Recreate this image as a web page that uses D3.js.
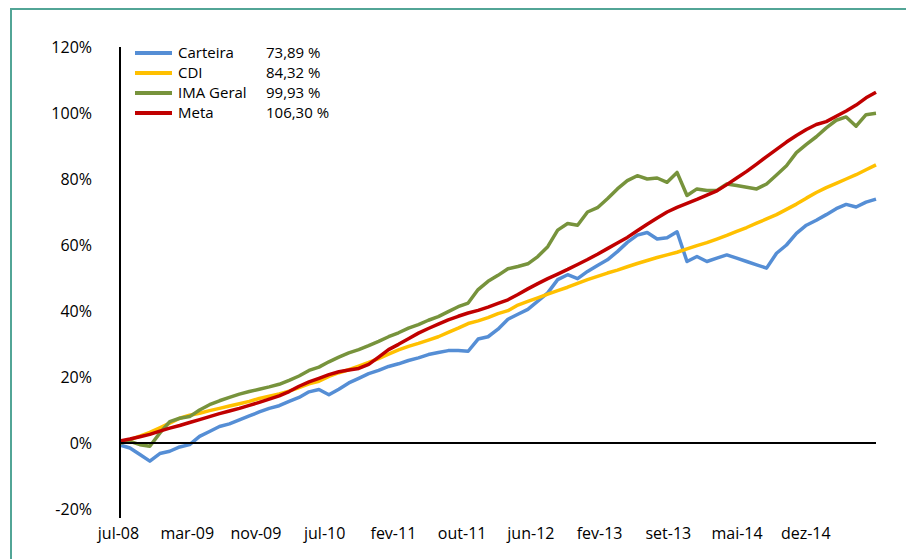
<!DOCTYPE html>
<html>
<head>
<meta charset="utf-8">
<script src="https://cdn.jsdelivr.net/npm/d3@7"></script>
<style>
  html, body { margin: 0; padding: 0; background: #fff; }
  svg { display: block; font-family: 'Open Sans', sans-serif; }
</style>
</head>
<body>
<svg id="canvas"></svg>
<script>
// series, in % (sampled along the category axis)
const carteira = [-0.6, -1.5, -3.5, -5.5, -3.2, -2.5, -1.2, -0.5, 2.0, 3.5,
  5.0, 5.8, 7.0, 8.2, 9.4, 10.5, 11.3, 12.6, 13.8, 15.5,
  16.2, 14.6, 16.3, 18.2, 19.6, 21.0, 22.0, 23.2, 24.0, 25.0,
  25.8, 26.8, 27.4, 28.0, 28.0, 27.8, 31.5, 32.2, 34.5, 37.5,
  39.0, 40.5, 43.0, 45.5, 49.5, 51.0, 49.8, 52.0, 53.8, 55.5,
  58.0, 60.8, 63.0, 63.8, 61.8, 62.2, 64.0, 55.0, 56.5, 55.0,
  56.0, 57.0, 56.0, 55.0, 54.0, 53.0, 57.5, 60.0, 63.5, 66.0,
  67.5, 69.2, 71.0, 72.3, 71.5, 73.0, 73.9];
const cdi = [0, 1.0, 2.1, 3.2, 4.6, 6.0, 7.5, 8.4, 9.0, 9.8,
  10.5, 11.2, 11.9, 12.6, 13.5, 14.2, 14.9, 15.7, 16.8, 17.9,
  18.7, 20.2, 21.3, 22.2, 23.3, 24.4, 25.6, 26.9, 28.2, 29.3,
  30.2, 31.2, 32.2, 33.5, 34.8, 36.2, 37.0, 38.0, 39.2, 40.1,
  41.8, 42.9, 44.0, 45.1, 46.2, 47.2, 48.4, 49.5, 50.5, 51.5,
  52.4, 53.4, 54.4, 55.3, 56.2, 57.0, 57.8, 58.8, 59.8, 60.7,
  61.8, 62.9, 64.1, 65.3, 66.6, 67.9, 69.2, 70.8, 72.4, 74.2,
  75.9, 77.4, 78.7, 80.0, 81.3, 82.8, 84.3];
const imaGeral = [0, 0.5, -0.5, -1.0, 3.0, 6.5, 7.5, 8.0, 10.0, 11.6,
  12.8, 13.8, 14.8, 15.6, 16.3, 17.0, 17.8, 19.0, 20.3, 22.0,
  23.0, 24.6, 26.0, 27.3, 28.3, 29.5, 30.8, 32.2, 33.4, 34.8,
  35.9, 37.2, 38.3, 39.8, 41.3, 42.4, 46.5, 49.0, 50.8, 52.8,
  53.5, 54.3, 56.5, 59.5, 64.5, 66.5, 66.0, 70.0, 71.3, 74.0,
  77.0, 79.5, 81.0, 80.0, 80.3, 79.0, 82.0, 75.0, 77.0, 76.5,
  76.5, 78.5, 78.0, 77.5, 77.0, 78.5, 81.2, 84.0, 88.0, 90.5,
  92.8, 95.5, 97.8, 98.8, 96.0, 99.5, 99.9];
const meta = [0.6, 1.2, 1.9, 2.6, 3.6, 4.5, 5.3, 6.2, 7.1, 8.0,
  8.9, 9.7, 10.5, 11.4, 12.3, 13.3, 14.3, 15.6, 17.2, 18.5,
  19.6, 20.7, 21.6, 22.1, 22.6, 23.8, 26.0, 28.3, 29.9, 31.6,
  33.3, 34.7, 36.0, 37.3, 38.4, 39.4, 40.2, 41.2, 42.3, 43.4,
  45.0, 46.7, 48.3, 49.8, 51.2, 52.6, 54.1, 55.6, 57.2, 58.9,
  60.6, 62.3, 64.3, 66.3, 68.2, 70.0, 71.4, 72.6, 73.8, 75.1,
  76.4, 78.3, 80.3, 82.3, 84.5, 86.8, 89.0, 91.2, 93.2, 95.0,
  96.5, 97.4, 99.0, 100.6, 102.4, 104.6, 106.3];

const seriesNames = ['Carteira', 'CDI', 'IMA Geral', 'Meta'];
const seriesTotals = ['73,89 %', '84,32 %', '99,93 %', '106,30 %'];
const seriesColors = ['#558ed5', '#ffc000', '#77933c', '#c00000'];
const xLabels = ['jul-08', 'mar-09', 'nov-09', 'jul-10', 'fev-11', 'out-11',
  'jun-12', 'fev-13', 'set-13', 'mai-14', 'dez-14'];
const yTicks = [-20, 0, 20, 40, 60, 80, 100, 120];

const w = 906;
const h = 559;
const svg = d3.select('#canvas').attr('width', w).attr('height', h);

// frame (only top and left edges fall inside the window)
svg.append('rect')
  .attr('x', 11).attr('y', 9)
  .attr('width', 920).attr('height', 580)
  .attr('fill', 'none')
  .attr('stroke', '#52a596')
  .attr('stroke-width', 2);

const n = carteira.length;
const xScale = d3.scaleLinear().domain([0, n - 1]).range([120, 876]);
const yScale = d3.scaleLinear().domain([-20, 120]).range([509, 47]);

// y axis labels
const yAxis = d3.axisLeft(yScale)
  .tickValues(yTicks)
  .tickSize(0)
  .tickPadding(28)
  .tickFormat((d) => d + '%');
const gy = svg.append('g').attr('transform', 'translate(120,0)').call(yAxis);
gy.select('.domain').remove();
gy.selectAll('text').attr('font-size', 16).attr('fill', '#000').attr('font-family', "'Open Sans', sans-serif");

// x axis labels, one every 11th of the series
const labelStep = (n - 1) / 11;
const xAxis = d3.axisBottom(xScale)
  .tickValues(xLabels.map((d, i) => i * labelStep))
  .tickSize(0)
  .tickPadding(0)
  .tickFormat((d, i) => xLabels[i]);
const gx = svg.append('g').attr('transform', 'translate(-2,528)').call(xAxis);
gx.select('.domain').remove();
gx.selectAll('text').attr('font-size', 16).attr('fill', '#000').attr('font-family', "'Open Sans', sans-serif");

// lines
const line = d3.line()
  .x((d, i) => xScale(i))
  .y((d) => yScale(d));

[carteira, cdi, imaGeral, meta].forEach((s, k) => {
  svg.append('path')
    .datum(s)
    .attr('fill', 'none')
    .attr('stroke', seriesColors[k])
    .attr('stroke-width', 3.5)
    .attr('stroke-linejoin', 'round')
    .attr('d', line);
});

// axis lines
svg.append('line')
  .attr('x1', 120).attr('x2', 120)
  .attr('y1', yScale(120)).attr('y2', yScale(-22.7))
  .attr('stroke', '#000').attr('stroke-width', 2);
svg.append('line')
  .attr('x1', 120).attr('x2', xScale(n - 1))
  .attr('y1', yScale(0)).attr('y2', yScale(0))
  .attr('stroke', '#000').attr('stroke-width', 2);

// legend
const legend = svg.append('g').attr('transform', 'translate(135,53)');
seriesNames.forEach((name, k) => {
  const row = legend.append('g').attr('transform', 'translate(0,' + k * 20 + ')');
  row.append('line')
    .attr('x1', 0).attr('x2', 37)
    .attr('stroke', seriesColors[k]).attr('stroke-width', 4);
  row.append('text')
    .attr('x', 43).attr('dy', '0.35em')
    .attr('font-size', 15)
    .text(name);
  row.append('text')
    .attr('x', 131).attr('dy', '0.35em')
    .attr('font-size', 15)
    .text(seriesTotals[k]);
});
</script>
</body>
</html>
